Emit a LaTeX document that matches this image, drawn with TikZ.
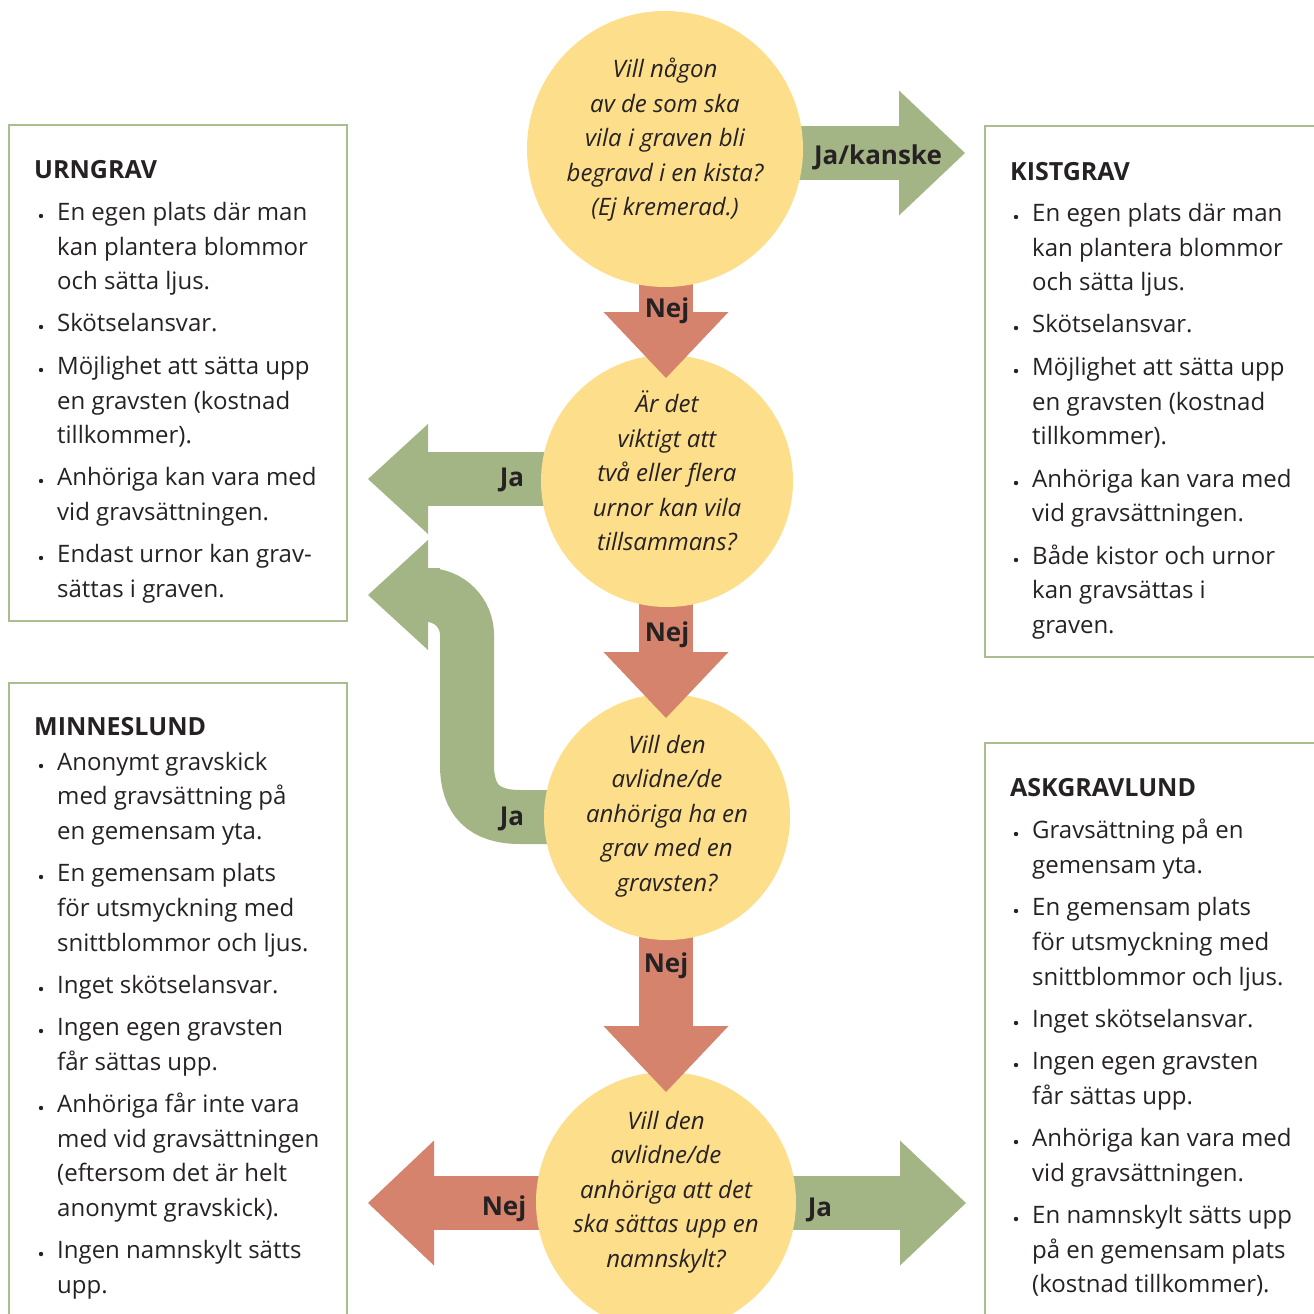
\documentclass[tikz,border=0pt]{standalone}
\usepackage{fontspec}
\setmainfont{Open Sans}
\usetikzlibrary{arrows.meta,calc}
\definecolor{cyellow}{HTML}{FDDE8B}
\definecolor{cgreen}{HTML}{A3B585}
\definecolor{cred}{HTML}{D5836C}
\definecolor{cbox}{HTML}{A9BD8E}
\definecolor{ctext}{HTML}{262223}
\tikzset{
  fat/.style={line width=54pt},
  bigtip/.style={-{Triangle[length=66pt 0 0,width=125pt 0 0,line width=0pt 0 0]}},
  smalltip/.style={-{Triangle[length=60pt 0 0,width=110pt 0 0,line width=0pt 0 0]}},
  garrow/.style={fat,draw=cgreen,bigtip},
  gsarrow/.style={fat,draw=cgreen,smalltip},
  gshaft/.style={fat,draw=cgreen},
  rarrow/.style={fat,draw=cred,bigtip},
  qcirc/.style={circle,fill=cyellow,inner sep=0pt,minimum size=#1},
  qtext/.style={align=center,inner sep=0pt,text=ctext,font=\itshape\fontsize{24}{34.5}\selectfont},
  alab/.style={inner sep=0pt,text=ctext,font=\bfseries\fontsize{26}{30}\selectfont},
  infobox/.style={draw=cbox,line width=2.5pt,inner sep=0pt},
  head/.style={anchor=base west,inner sep=0pt,text=ctext,font=\bfseries\fontsize{25}{30}\selectfont},
  body/.style={anchor=base west,inner sep=0pt,text=ctext,font=\fontsize{24}{30}\selectfont},
  dot/.style={fill=ctext}
}
\begin{document}
\begin{tikzpicture}[x=1pt,y=-1pt]
\useasboundingbox (0,0) rectangle (1314,1314);

% info boxes
\node[infobox,minimum width=338pt,minimum height=496pt] (urn) at (178,373) {};
\node[infobox,minimum width=345pt,minimum height=531pt] (kist) at (1157.5,391.5) {};
\node[infobox,minimum width=338pt,minimum height=647pt] (minne) at (178,1006.5) {};
\node[infobox,minimum width=345pt,minimum height=587pt] (ask) at (1157.5,1036.5) {};

% centres and arrow tips
\coordinate (q1) at (665,149);
\coordinate (q2) at (667,481);
\coordinate (q3) at (667,817);
\coordinate (q4) at (666,1202);
\coordinate (t1r) at (965,153);
\coordinate (t1d) at (666,378);
\coordinate (t2l) at (368,479);
\coordinate (t2d) at (666,718);
\coordinate (cb) at (427,595);
\coordinate (tc) at (368,595);
\coordinate (t3d) at (666,1092);
\coordinate (t4l) at (368,1203);
\coordinate (t4r) at (966,1203);

% level 4
\draw[rarrow] (q4 |- t4l) -- (t4l);
\draw[garrow] (q4 |- t4r) -- (t4r);
\node[qcirc=260pt] (c4) at (q4) {};
% level 3
\draw[rarrow] (t3d |- q3) -- (t3d);
\draw[gshaft] (q3) -- (520,817) .. controls (484,817) and (467,800) .. (467,765)
   -- (467,635) .. controls (467,612.9) and (449.1,595) .. (cb) -- ++(-8,0);
\draw[gsarrow] ($(cb)+(13,0)$) -- (tc);
\node[qcirc=246pt] (c3) at (q3) {};
% level 2
\draw[rarrow] (t2d |- q2) -- (t2d);
\draw[gsarrow] (q2 |- t2l) -- (t2l);
\node[qcirc=252pt] (c2) at (q2) {};
% level 1
\draw[rarrow] (t1d |- q1) -- (t1d);
\draw[garrow] (q1 |- t1r) -- (t1r);
\node[qcirc=276pt] (c1) at (q1) {};

% question texts
\node[qtext] (c1t) at (665,140) {Vill någon\\av de som ska\\vila i graven bli\\begravd i en kista?\\(Ej kremerad.)};
\node[qtext] (c2t) at (667,471) {Är det\\viktigt att\\två eller flera\\urnor kan vila\\tillsammans?};
\node[qtext] (c3t) at (667,816) {Vill den\\avlidne/de\\anhöriga ha en\\grav med en\\gravsten?};
\node[qtext] (c4t) at (666,1192) {Vill den\\avlidne/de\\anhöriga att det\\ska sättas upp en\\namnskylt?};

% arrow labels
\node[alab] (l1) at (878,157) {Ja/kanske};
\node[alab] (l2) at (667,311) {Nej};
\node[alab] (l3) at (512,480) {Ja};
\node[alab] (l4) at (667,635) {Nej};
\node[alab] (l5) at (512,819) {Ja};
\node[alab] (l6) at (666,966) {Nej};
\node[alab] (l7) at (504,1209) {Nej};
\node[alab] (l8) at (820,1210) {Ja};

% URNGRAV
\node[head] (urnh) at (34,178) {URNGRAV};
\foreach \yy/\txt [count=\i] in {211/En egen plats där man,246/kan plantera blommor,280/och sätta ljus.,
  322/Skötselansvar.,365/Möjlighet att sätta upp,400/en gravsten (kostnad,434/tillkommer).,
  476/Anhöriga kan vara med,511/vid gravsättningen.,553/Endast urnor kan grav-,588/sättas i graven.}
  \node[body] (urn\i) at (57,\yy+9) {\txt};
\foreach \yy in {211,322,365,476,553} \fill[dot] (41,\yy+5) circle (2.2);

% KISTGRAV
\node[head] (kisth) at (1010,180) {KISTGRAV};
\foreach \yy/\txt [count=\i] in {212/En egen plats där man,247/kan plantera blommor,281/och sätta ljus.,
  323/Skötselansvar.,366/Möjlighet att sätta upp,401/en gravsten (kostnad,435/tillkommer).,
  478/Anhöriga kan vara med,512/vid gravsättningen.,555/Både kistor och urnor,589/kan gravsättas i,624/graven.}
  \node[body] (kist\i) at (1032,\yy+9) {\txt};
\foreach \yy in {212,323,366,478,555} \fill[dot] (1016,\yy+5) circle (2.2);

% MINNESLUND
\node[head] (minneh) at (34,735) {MINNESLUND};
\foreach \yy/\txt [count=\i] in {761/Anonymt gravskick,795/med gravsättning på,830/en gemensam yta.,
  872/En gemensam plats,907/för utsmyckning med,942/snittblommor och ljus.,984/Inget skötselansvar.,
  1026/Ingen egen gravsten,1061/får sättas upp.,1103/Anhöriga får inte vara,1138/med vid gravsättningen,
  1172/(eftersom det är helt,1207/anonymt gravskick).,1249/Ingen namnskylt sätts,1284/upp.}
  \node[body] (minne\i) at (57,\yy+9) {\txt};
\foreach \yy in {761,872,984,1026,1103,1249} \fill[dot] (41,\yy+5) circle (2.2);

% ASKGRAVLUND
\node[head] (askh) at (1010,796) {ASKGRAVLUND};
\foreach \yy/\txt [count=\i] in {829/Gravsättning på en,864/gemensam yta.,906/En gemensam plats,
  941/för utsmyckning med,976/snittblommor och ljus.,1018/Inget skötselansvar.,1060/Ingen egen gravsten,
  1095/får sättas upp.,1137/Anhöriga kan vara med,1172/vid gravsättningen.,1214/En namnskylt sätts upp,
  1249/på en gemensam plats,1283/(kostnad tillkommer).}
  \node[body] (ask\i) at (1032,\yy+9) {\txt};
\foreach \yy in {829,906,1018,1060,1137,1214} \fill[dot] (1016,\yy+5) circle (2.2);
\end{tikzpicture}
\end{document}
